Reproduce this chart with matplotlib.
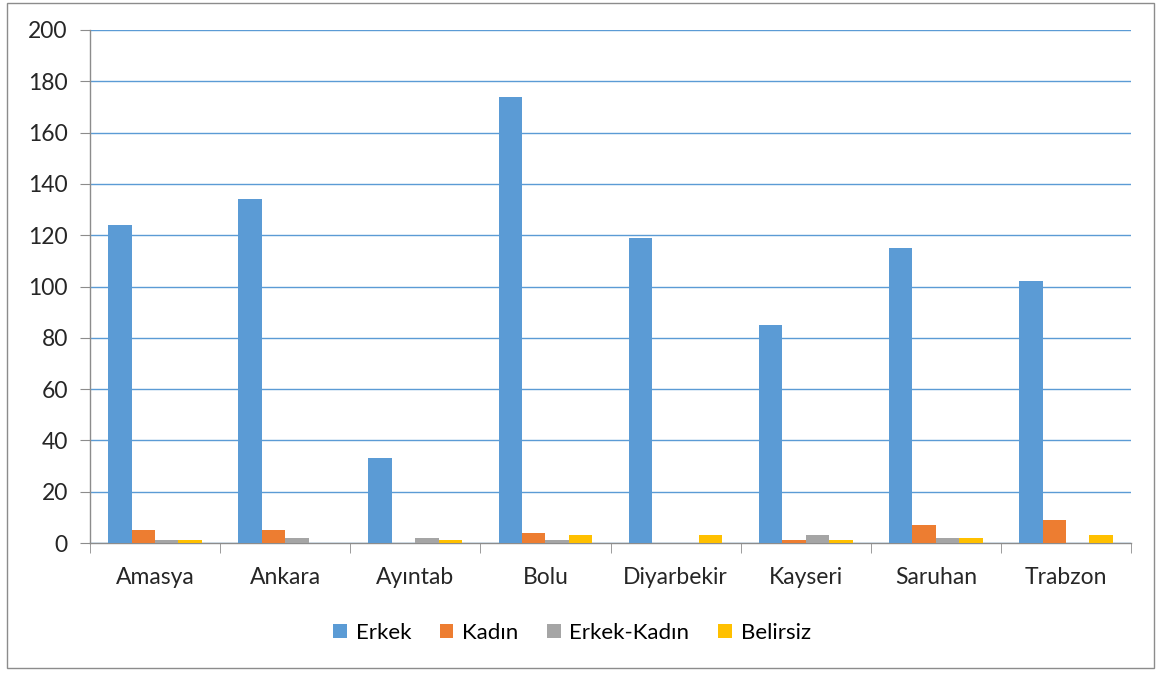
import matplotlib

matplotlib.use("Agg")
import matplotlib.pyplot as plt
import numpy as np
from matplotlib.patches import Rectangle

provinces = ["Amasya", "Ankara", "Ayıntab", "Bolu", "Diyarbekir", "Kayseri", "Saruhan", "Trabzon"]
erkek = [124, 134, 33, 174, 119, 85, 115, 102]
kadin = [5, 5, 0, 4, 0, 1, 7, 9]
erkek_kadin = [1, 2, 2, 1, 0, 3, 2, 0]
belirsiz = [1, 0, 1, 3, 3, 1, 2, 3]

series = [
    ("Erkek", erkek, "#5B9BD5"),
    ("Kadın", kadin, "#ED7D31"),
    ("Erkek-Kadın", erkek_kadin, "#A5A5A5"),
    ("Belirsiz", belirsiz, "#FFC000"),
]

plt.rcParams["font.family"] = ["Lato", "DejaVu Sans"]

fig = plt.figure(figsize=(11.6, 6.73), dpi=100, facecolor="white")
ax = fig.add_axes([90 / 1160, 1 - 543 / 673, (1131 - 90) / 1160, (543 - 30) / 673])

x = np.arange(len(provinces))
width = 0.18
for i, (name, values, colour) in enumerate(series):
    ax.bar(x + (i - 1.5) * width, values, width=width, color=colour, label=name, zorder=3)

ax.set_xlim(-0.5, len(provinces) - 0.5)
ax.set_ylim(0, 200)
ax.set_yticks(range(0, 201, 20))
ax.set_xticks(x)
ax.set_xticklabels(provinces)
ax.set_xticks(np.arange(-0.5, len(provinces)), minor=True)
ax.tick_params(axis="x", which="major", length=0, pad=17, labelsize=16.5, colors="#262626")
ax.tick_params(axis="x", which="minor", length=7, color="#8c8c8c")
ax.tick_params(axis="y", length=7, color="#8c8c8c", labelsize=16.5, labelcolor="#262626", pad=9)
ax.grid(axis="y", color="#5B9BD5", linewidth=1.0, zorder=0)

for side in ("top", "right"):
    ax.spines[side].set_visible(False)
for side in ("left", "bottom"):
    ax.spines[side].set_color("#8c8c8c")
    ax.spines[side].set_linewidth(1.0)

ax.legend(
    loc="center",
    bbox_to_anchor=(572 / 1160, 1 - 633 / 673),
    bbox_transform=fig.transFigure,
    ncol=4,
    frameon=False,
    fontsize=16,
    handlelength=0.6,
    handleheight=0.6,
    handletextpad=0.4,
    columnspacing=1.3,
)

fig.patches.append(
    Rectangle((7 / 1160, 1 - 668 / 673), (1154 - 7) / 1160, (668 - 3) / 673,
              transform=fig.transFigure, fill=False, edgecolor="#8c8c8c", linewidth=1.0)
)

fig.savefig("out.png", dpi=100, facecolor="white")
